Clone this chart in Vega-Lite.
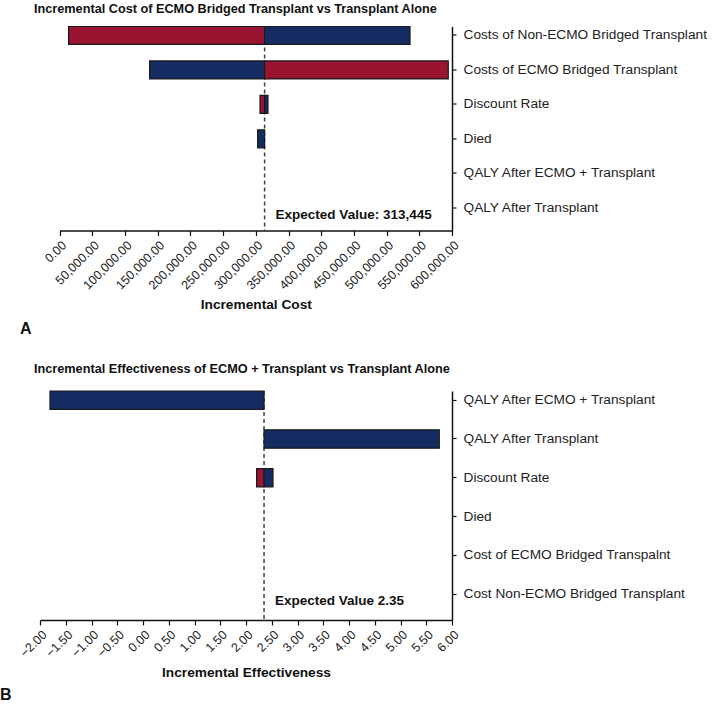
{
  "$schema": "https://vega.github.io/schema/vega-lite/v6.json",
  "padding": {"left": 0, "top": 2.5, "right": 0, "bottom": 0},
  "config": {
    "view": {"stroke": null},
    "font": "Liberation Sans",
    "axis": {"domainColor": "#111", "domainWidth": 1.5, "tickColor": "#111", "tickWidth": 1.2, "labelColor": "#222", "titleColor": "#111", "grid": false, "labelOverlap": false, "labelFlush": false},
    "concat": {"spacing": 24.5}
  },
  "datasets": {
    "costBars": [
      {"param": "Costs of Non-ECMO Bridged Transplant", "lo": 13760, "hi": 313445, "side": "High"},
      {"param": "Costs of Non-ECMO Bridged Transplant", "lo": 313445, "hi": 535800, "side": "Low"},
      {"param": "Costs of ECMO Bridged Transplant", "lo": 137600, "hi": 313445, "side": "Low"},
      {"param": "Costs of ECMO Bridged Transplant", "lo": 313445, "hi": 594300, "side": "High"},
      {"param": "Discount Rate", "lo": 306400, "hi": 313445, "side": "High"},
      {"param": "Discount Rate", "lo": 313445, "hi": 318600, "side": "Low"},
      {"param": "Died", "lo": 302800, "hi": 313445, "side": "Low"}
    ],
    "costEV": [
      {"param": "QALY After Transplant", "ev": 313445, "label": "Expected Value: 313,445"}
    ],
    "effBars": [
      {"param": "QALY After ECMO + Transplant", "lo": -1.806, "hi": 2.35, "side": "Low"},
      {"param": "QALY After Transplant", "lo": 2.35, "hi": 5.753, "side": "Low"},
      {"param": "Discount Rate", "lo": 2.206, "hi": 2.35, "side": "High"},
      {"param": "Discount Rate", "lo": 2.35, "hi": 2.524, "side": "Low"}
    ],
    "effEV": [
      {"param": "Cost Non-ECMO Bridged Transplant", "ev": 2.35, "label": "Expected Value 2.35"}
    ]
  },
  "vconcat": [
    {
      "title": {"text": "A", "orient": "bottom", "anchor": "start", "fontSize": 16, "fontWeight": "bold", "color": "#111", "frame": "group", "dx": -20, "offset": 10},
      "vconcat": [
        {
          "title": {"text": "Incremental Cost of ECMO Bridged Transplant vs Transplant Alone", "anchor": "start", "frame": "group", "dx": -6, "fontSize": 12.7, "fontWeight": "bold", "color": "#111", "offset": 10.5},
          "width": 412,
          "height": 204,
          "layer": [
            {
              "data": {"name": "costEV"},
              "mark": {"type": "rule", "strokeDash": [4, 3], "color": "#444", "strokeWidth": 1.5},
              "encoding": {
                "x": {"field": "ev", "type": "quantitative", "scale": {"domain": [0, 600000], "nice": false, "rangeMin": 19.6},
                  "axis": {"title": "Incremental Cost", "format": ",.2f", "tickCount": 12, "labelAngle": -45, "labelFontSize": 12.5, "tickSize": 5, "labelPadding": 3, "titleFontSize": 13.7, "titleFontWeight": "bold", "titlePadding": 6}}
              }
            },
            {
              "data": {"name": "costBars"},
              "mark": {"type": "bar", "stroke": "#1a1a1a", "strokeWidth": 1.2},
              "encoding": {
                "y": {"field": "param", "type": "nominal",
                  "scale": {"domain": ["Costs of Non-ECMO Bridged Transplant", "Costs of ECMO Bridged Transplant", "Discount Rate", "Died", "QALY After ECMO + Transplant", "QALY After Transplant"], "paddingInner": 0.48, "paddingOuter": 0.2, "align": 0},
                  "axis": {"orient": "right", "title": null, "labelFontSize": 13.7, "tickSize": 4, "labelPadding": 7, "labelLimit": 300}},
                "x": {"field": "lo", "type": "quantitative",
                  "axis": {"title": "Incremental Cost", "format": ",.2f", "tickCount": 12, "labelAngle": -45, "labelFontSize": 12.5, "tickSize": 5, "labelPadding": 3, "titleFontSize": 13.7, "titleFontWeight": "bold", "titlePadding": 6}},
                "x2": {"field": "hi"},
                "color": {"field": "side", "type": "nominal", "scale": {"domain": ["High", "Low"], "range": ["#981430", "#142c62"]}, "legend": null}
              }
            },
            {
              "data": {"name": "costEV"},
              "mark": {"type": "text", "align": "left", "baseline": "middle", "dx": 11, "dy": 7, "fontSize": 13.5, "fontWeight": "bold", "color": "#111"},
              "encoding": {
                "x": {"field": "ev", "type": "quantitative"},
                "y": {"field": "param", "type": "nominal"},
                "text": {"field": "label"}
              }
            }
          ]
        }
      ]
    },
    {
      "title": {"text": "B", "orient": "bottom", "anchor": "start", "fontSize": 16, "fontWeight": "bold", "color": "#111", "frame": "group", "dx": -40, "offset": 8},
      "vconcat": [
        {
          "title": {"text": "Incremental Effectiveness of ECMO + Transplant vs Transplant Alone", "anchor": "start", "frame": "group", "dx": -6, "fontSize": 12.7, "fontWeight": "bold", "color": "#111", "offset": 15},
          "width": 412,
          "height": 229,
          "layer": [
            {
              "data": {"name": "effEV"},
              "mark": {"type": "rule", "strokeDash": [4, 3], "color": "#444", "strokeWidth": 1.5},
              "encoding": {
                "x": {"field": "ev", "type": "quantitative", "scale": {"domain": [-2, 6], "nice": false},
                  "axis": {"title": "Incremental Effectiveness", "format": ".2f", "tickCount": 16, "labelAngle": -45, "labelFontSize": 12.5, "tickSize": 5, "labelPadding": 3, "titleFontSize": 13.7, "titleFontWeight": "bold", "titlePadding": 6}}
              }
            },
            {
              "data": {"name": "effBars"},
              "mark": {"type": "bar", "stroke": "#1a1a1a", "strokeWidth": 1.2},
              "encoding": {
                "y": {"field": "param", "type": "nominal",
                  "scale": {"domain": ["QALY After ECMO + Transplant", "QALY After Transplant", "Discount Rate", "Died", "Cost of ECMO Bridged Transpalnt", "Cost Non-ECMO Bridged Transplant"], "paddingInner": 0.528, "paddingOuter": 0.214, "align": 0},
                  "axis": {"orient": "right", "title": null, "labelFontSize": 13.7, "tickSize": 4, "labelPadding": 7, "labelLimit": 300}},
                "x": {"field": "lo", "type": "quantitative",
                  "axis": {"title": "Incremental Effectiveness", "format": ".2f", "tickCount": 16, "labelAngle": -45, "labelFontSize": 12.5, "tickSize": 5, "labelPadding": 3, "titleFontSize": 13.7, "titleFontWeight": "bold", "titlePadding": 6}},
                "x2": {"field": "hi"},
                "color": {"field": "side", "type": "nominal", "scale": {"domain": ["High", "Low"], "range": ["#981430", "#142c62"]}, "legend": null}
              }
            },
            {
              "data": {"name": "effEV"},
              "mark": {"type": "text", "align": "left", "baseline": "middle", "dx": 11, "dy": 7, "fontSize": 13.5, "fontWeight": "bold", "color": "#111"},
              "encoding": {
                "x": {"field": "ev", "type": "quantitative"},
                "y": {"field": "param", "type": "nominal"},
                "text": {"field": "label"}
              }
            }
          ]
        }
      ]
    }
  ]
}
